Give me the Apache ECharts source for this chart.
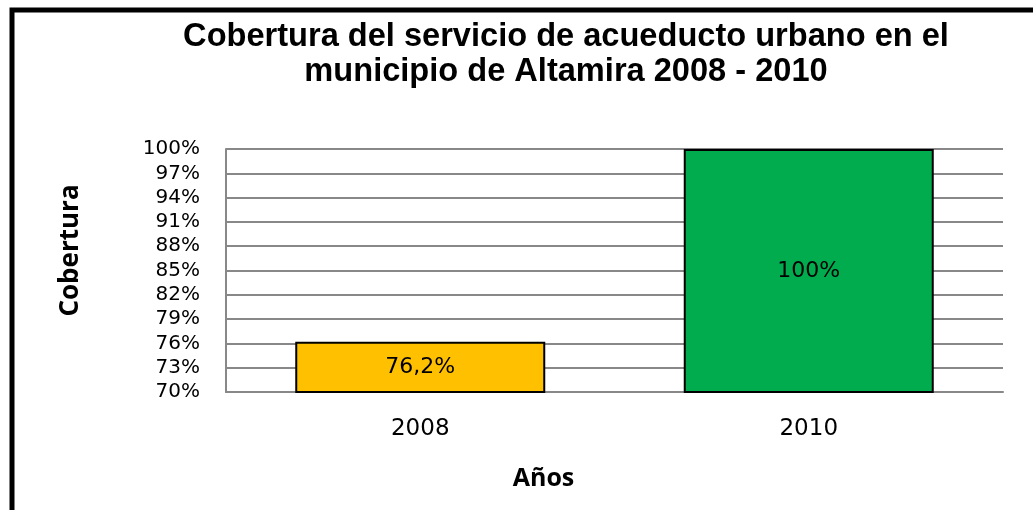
<!DOCTYPE html>
<html>
  <head>
    <meta charset="utf-8" />
    <title>Cobertura acueducto</title>
    <script src="https://cdn.jsdelivr.net/npm/echarts@6/dist/echarts.min.js"></script>
  </head>
  <body style="margin: 0">
    <div id="main" style="width: 1033px; height: 510px"></div>
    <script type="text/javascript">
      // data
      var years = ["2008", "2010"];
      var coverage = [76.2, 100];
      var barLabels = ["76,2%", "100%"];
      var barColors = ["#ffc000", "#00ac4e"];

      var myChart = echarts.init(document.getElementById("main"));

      var option = {
        backgroundColor: "#fff",
        animation: false,
        title: {
          text: "Cobertura del servicio de acueducto urbano en el\nmunicipio de Altamira 2008 - 2010",
          left: 561,
          top: 15,
          textAlign: "center",
          textStyle: {
            fontFamily: "Liberation Sans",
            fontSize: 32.6,
            fontWeight: "bold",
            lineHeight: 35,
            color: "#000",
          },
        },
        graphic: [
          {
            type: "rect",
            shape: { x: 12, y: 10, width: 1100, height: 600 },
            style: { fill: null, stroke: "#000", lineWidth: 5 },
          },
        ],
        grid: {
          left: 226,
          right: 30,
          top: 149,
          bottom: 118,
        },
        xAxis: {
          type: "category",
          data: years,
          name: "Años",
          nameLocation: "middle",
          nameGap: 74,
          nameTextStyle: {
            fontFamily: "Open Sans",
            fontWeight: "bold",
            fontSize: 25,
            color: "#000",
            padding: [0, 142, 0, 0],
          },
          axisLine: { lineStyle: { color: "#888", width: 2 } },
          axisTick: { show: false },
          axisLabel: {
            margin: 26,
            fontFamily: "DejaVu Sans",
            fontSize: 23,
            color: "#000",
          },
        },
        yAxis: {
          type: "value",
          min: 70,
          max: 100,
          interval: 3,
          name: "Cobertura",
          nameLocation: "middle",
          nameGap: 142,
          nameTextStyle: {
            fontFamily: "Open Sans",
            fontWeight: "bold",
            fontSize: 26,
            color: "#000",
            padding: [0, 0, 0, 40],
          },
          axisLine: { show: true, lineStyle: { color: "#888", width: 2 } },
          axisTick: { show: false },
          axisLabel: {
            margin: 26,
            fontFamily: "DejaVu Sans",
            fontSize: 20,
            color: "#000",
            formatter: "{value}%",
          },
          splitLine: { lineStyle: { color: "#888", width: 2 } },
        },
        series: [
          {
            type: "bar",
            barWidth: 250,
            data: coverage.map(function (v, i) {
              return { value: v, itemStyle: { color: barColors[i] } };
            }),
            itemStyle: { borderColor: "#000", borderWidth: 2 },
            label: {
              show: true,
              position: "inside",
              fontFamily: "DejaVu Sans",
              fontSize: 22,
              color: "#000",
              formatter: function (p) {
                return barLabels[p.dataIndex];
              },
            },
          },
        ],
      };

      myChart.setOption(option);
    </script>
  </body>
</html>
